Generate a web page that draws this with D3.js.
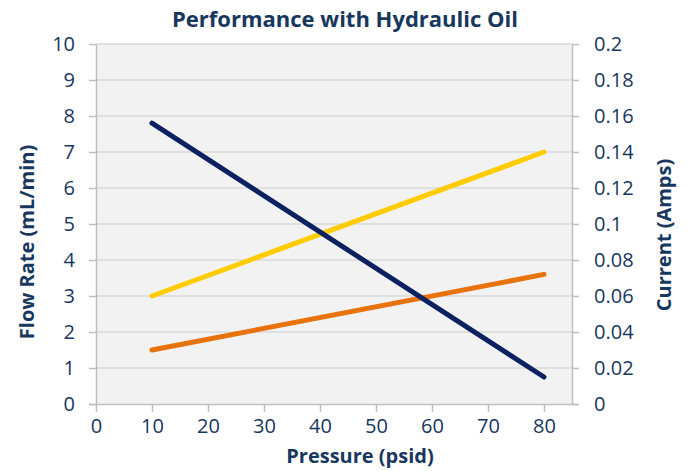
<!DOCTYPE html>
<html>
<head>
<meta charset="utf-8">
<script src="https://cdn.jsdelivr.net/npm/d3@7"></script>
<style>
	body { margin: 0; background: #fff; }
	text { font-family: "Open Sans", sans-serif; fill: #17375e; }
</style>
</head>
<body>
<svg id="chart"></svg>
<script>
//data
var pressure = [10, 80];
var flowRate = [7.8, 0.75];      // navy, left axis
var currentHigh = [0.06, 0.14];  // yellow, right axis
var currentLow = [0.03, 0.072];  // orange, right axis

var xTicks = [0, 10, 20, 30, 40, 50, 60, 70, 80];
var leftTicks = [0, 1, 2, 3, 4, 5, 6, 7, 8, 9, 10];
var rightTicks = [0, 0.02, 0.04, 0.06, 0.08, 0.1, 0.12, 0.14, 0.16, 0.18, 0.2];

var W = 687, H = 471;
var margin = { top: 44, right: 115, bottom: 67, left: 96 };
var width = W - margin.left - margin.right;
var height = H - margin.top - margin.bottom;

var svg = d3.select("#chart")
	.attr("width", W)
	.attr("height", H);

var g = svg.append("g")
	.attr("transform", "translate(" + margin.left + "," + margin.top + ")");

var x = d3.scaleLinear().domain([0, 85]).range([0, width]);
var yL = d3.scaleLinear().domain([0, 10]).range([height, 0]);
var yR = d3.scaleLinear().domain([0, 0.2]).range([height, 0]);

//plot background
g.append("rect")
	.attr("width", width)
	.attr("height", height)
	.attr("fill", "#f2f2f2");

//grid
g.append("g")
	.selectAll("line")
	.data(leftTicks.filter(function(d) { return d > 0; }))
	.join("line")
	.attr("x1", 0)
	.attr("x2", width)
	.attr("y1", function(d) { return yL(d); })
	.attr("y2", function(d) { return yL(d); })
	.attr("stroke", "#d9d9d9")
	.attr("stroke-width", 1.5);

//axes
function styleAxis(sel) {
	sel.selectAll("path, line").attr("stroke", "#bfbfbf").attr("stroke-width", 1.5);
	sel.selectAll("text")
		.style("font-family", "'Open Sans', sans-serif")
		.style("font-size", "20px")
		.attr("fill", "#17375e");
}

g.append("g")
	.attr("class", "axis axis--x")
	.attr("transform", "translate(0," + height + ")")
	.call(d3.axisBottom(x).tickValues(xTicks).tickSize(8).tickSizeOuter(0).tickPadding(7))
	.call(styleAxis);

g.select(".axis--x .domain").attr("d", "M" + (-7) + ",0.5H" + (width + 7));

g.append("g")
	.attr("class", "axis axis--y")
	.call(d3.axisLeft(yL).tickValues(leftTicks).tickSize(7).tickSizeOuter(0).tickPadding(14))
	.call(styleAxis);

g.append("g")
	.attr("class", "axis axis--y2")
	.attr("transform", "translate(" + width + ",0)")
	.call(d3.axisRight(yR).tickValues(rightTicks).tickSize(7).tickSizeOuter(0).tickPadding(15)
		.tickFormat(function(d) { return d === 0 ? "0" : String(+d.toFixed(2)); }))
	.call(styleAxis);

//lines
var lineL = d3.line()
	.x(function(d) { return x(d[0]); })
	.y(function(d) { return yL(d[1]); });
var lineR = d3.line()
	.x(function(d) { return x(d[0]); })
	.y(function(d) { return yR(d[1]); });

var series = [
	{ values: currentLow, line: lineR, color: "#e8720c" },
	{ values: currentHigh, line: lineR, color: "#ffcc00" },
	{ values: flowRate, line: lineL, color: "#0b2160" }
];

series.forEach(function(s) {
	g.append("path")
		.datum(d3.zip(pressure, s.values))
		.attr("class", "line")
		.attr("d", s.line)
		.attr("fill", "none")
		.attr("stroke", s.color)
		.attr("stroke-width", 5)
		.attr("stroke-linecap", "round");
});

//titles
svg.append("text")
	.attr("x", 345)
	.attr("y", 27)
	.attr("text-anchor", "middle")
	.style("font-size", "22px")
	.style("font-weight", "bold")
	.text("Performance with Hydraulic Oil");

svg.append("text")
	.attr("x", 360)
	.attr("y", 463)
	.attr("text-anchor", "middle")
	.style("font-size", "20px")
	.style("font-weight", "bold")
	.text("Pressure (psid)");

svg.append("text")
	.attr("transform", "translate(34,242) rotate(-90)")
	.attr("text-anchor", "middle")
	.style("font-size", "20px")
	.style("font-weight", "bold")
	.text("Flow Rate (mL/min)");

svg.append("text")
	.attr("transform", "translate(671,235) rotate(-90)")
	.attr("text-anchor", "middle")
	.style("font-size", "20px")
	.style("font-weight", "bold")
	.text("Current (Amps)");
</script>
</body>
</html>
